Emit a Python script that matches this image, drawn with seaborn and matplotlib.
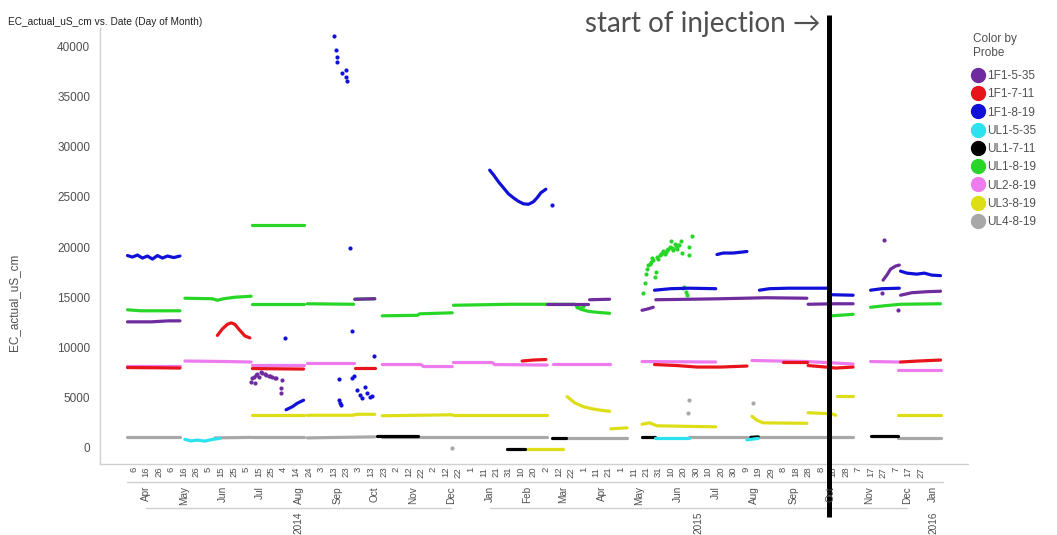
import matplotlib
matplotlib.use("Agg")
import matplotlib.pyplot as plt
import matplotlib.dates as mdates
import matplotlib.transforms as mtransforms
from matplotlib.lines import Line2D
import pandas as pd
import seaborn as sns

# ---------------------------------------------------------------- data
probes = ["1F1-5-35", "1F1-7-11", "1F1-8-19", "UL1-5-35", "UL1-7-11",
          "UL1-8-19", "UL2-8-19", "UL3-8-19", "UL4-8-19"]
probe_colors = ["#6E2C9E", "#E8141B", "#1010D8", "#2BE3EE", "#000000",
                "#28D628", "#EE7BEE", "#DEDE18", "#A8A8A8"]

# continuous logger runs, (date, EC in uS/cm)
f1_5_35_runs = [
    [("2014-04-01", 12550), ("2014-04-20", 12550), ("2014-05-04", 12650), ("2014-05-13", 12650)],
    [("2014-09-30", 14800), ("2014-10-16", 14850)],
    [("2015-03-03", 14300), ("2015-04-05", 14300)],
    [("2015-04-06", 14750), ("2015-04-22", 14800)],
    [("2015-05-18", 13700), ("2015-05-23", 13850), ("2015-05-27", 14000)],
    [("2015-05-29", 14750), ("2015-06-25", 14800), ("2015-07-20", 14850), ("2015-08-25", 14950), ("2015-09-27", 14900)],
    [("2015-09-28", 14300), ("2015-10-20", 14350), ("2015-11-03", 14350)],
    [("2015-11-27", 16700), ("2015-11-30", 17200), ("2015-12-03", 17800), ("2015-12-07", 18100), ("2015-12-10", 18200)],
    [("2015-12-11", 15200), ("2015-12-20", 15450), ("2016-01-01", 15550), ("2016-01-12", 15600)],
]
f1_5_35_spots = [
    ("2014-07-09", 6600), ("2014-07-10", 6930), ("2014-07-11", 7100), ("2014-07-12", 6440),
    ("2014-07-13", 7260), ("2014-07-14", 7400), ("2014-07-15", 7090), ("2014-07-17", 7590),
    ("2014-07-18", 7430), ("2014-07-20", 7350), ("2014-07-21", 7260), ("2014-07-23", 7200),
    ("2014-07-24", 7160), ("2014-07-26", 7090), ("2014-07-28", 7000), ("2014-07-29", 6930),
    ("2014-08-02", 5940), ("2014-08-02", 5440), ("2014-08-03", 6770),
    ("2015-11-26", 15400), ("2015-11-28", 20700), ("2015-12-09", 13700),
]

f1_7_11_runs = [
    [("2014-04-01", 8000), ("2014-04-25", 7980), ("2014-05-13", 7950)],
    [("2014-06-12", 11200), ("2014-06-16", 11850), ("2014-06-20", 12300), ("2014-06-23", 12450),
     ("2014-06-26", 12300), ("2014-06-30", 11700), ("2014-07-04", 11150), ("2014-07-08", 10950)],
    [("2014-07-10", 7900), ("2014-08-20", 7850)],
    [("2014-09-30", 8000), ("2014-10-16", 8000)],
    [("2015-02-11", 8650), ("2015-02-20", 8750), ("2015-03-02", 8800)],
    [("2015-05-28", 8300), ("2015-06-15", 8200), ("2015-07-01", 8050), ("2015-07-20", 8050), ("2015-08-10", 8150)],
    [("2015-09-08", 8550), ("2015-09-27", 8550)],
    [("2015-09-28", 8200), ("2015-10-12", 8050), ("2015-10-20", 7950), ("2015-11-03", 8050)],
    [("2015-12-11", 8550), ("2015-12-25", 8650), ("2016-01-12", 8750)],
]

f1_8_19_runs = [
    [("2014-04-01", 19150), ("2014-04-05", 19000), ("2014-04-09", 19200), ("2014-04-13", 18900),
     ("2014-04-17", 19100), ("2014-04-21", 18800), ("2014-04-25", 19150), ("2014-04-29", 18900),
     ("2014-05-03", 19100), ("2014-05-08", 18950), ("2014-05-13", 19100)],
    [("2014-08-06", 3800), ("2014-08-11", 4100), ("2014-08-15", 4450), ("2014-08-20", 4750)],
    [("2015-01-16", 27650), ("2015-01-19", 27200), ("2015-01-23", 26500), ("2015-01-27", 25900),
     ("2015-01-31", 25300), ("2015-02-04", 24900), ("2015-02-08", 24550), ("2015-02-12", 24300),
     ("2015-02-16", 24250), ("2015-02-20", 24500), ("2015-02-23", 24900), ("2015-02-26", 25400),
     ("2015-03-02", 25750)],
    [("2015-05-28", 15700), ("2015-06-10", 15850), ("2015-06-25", 15900), ("2015-07-16", 15850)],
    [("2015-07-17", 19250), ("2015-07-22", 19400), ("2015-07-30", 19400), ("2015-08-10", 19550)],
    [("2015-08-20", 15700), ("2015-08-28", 15850), ("2015-09-12", 15900), ("2015-10-13", 15900)],
    [("2015-10-17", 15250), ("2015-11-03", 15200)],
    [("2015-11-17", 15700), ("2015-11-26", 15850), ("2015-12-10", 15900)],
    [("2015-12-11", 17600), ("2015-12-16", 17400), ("2015-12-24", 17300), ("2015-12-30", 17400),
     ("2016-01-05", 17200), ("2016-01-12", 17150)],
]
f1_8_19_spots = [
    ("2014-08-05", 10950), ("2014-09-13", 41000), ("2014-09-15", 39600), ("2014-09-16", 38900),
    ("2014-09-16", 38400), ("2014-09-20", 37300), ("2014-09-23", 37600), ("2014-09-23", 36900),
    ("2014-09-24", 36500), ("2014-09-26", 19900), ("2014-09-28", 11600), ("2014-10-15", 9150),
    ("2014-09-17", 6850), ("2014-09-17", 4800), ("2014-09-18", 4500), ("2014-09-19", 4300),
    ("2014-09-28", 7000), ("2014-09-29", 7150), ("2014-10-02", 5750), ("2014-10-04", 5250),
    ("2014-10-06", 4950), ("2014-10-08", 6100), ("2014-10-10", 5450), ("2014-10-12", 5100),
    ("2014-10-14", 5150), ("2015-03-07", 24200),
]

ul1_5_35_runs = [
    [("2014-05-17", 850), ("2014-05-22", 700), ("2014-05-27", 780), ("2014-06-02", 680),
     ("2014-06-08", 850), ("2014-06-14", 950)],
    [("2015-05-28", 1000), ("2015-06-25", 1000)],
    [("2015-08-10", 800), ("2015-08-19", 950)],
]

ul1_7_11_runs = [
    [("2014-10-18", 1150), ("2014-11-20", 1150)],
    [("2015-01-30", -80), ("2015-02-13", -80)],
    [("2015-03-07", 950), ("2015-03-18", 950)],
    [("2015-05-18", 1100), ("2015-05-28", 1100)],
    [("2015-08-13", 1050), ("2015-08-19", 1100)],
    [("2015-11-17", 1150), ("2015-12-09", 1150)],
]

ul1_8_19_runs = [
    [("2014-04-01", 13750), ("2014-04-12", 13650), ("2014-05-13", 13650)],
    [("2014-05-17", 14900), ("2014-06-08", 14850), ("2014-06-12", 14700), ("2014-06-17", 14850),
     ("2014-06-26", 15000), ("2014-07-09", 15100)],
    [("2014-07-10", 22200), ("2014-08-20", 22200)],
    [("2014-07-10", 14300), ("2014-08-20", 14300)],
    [("2014-08-23", 14350), ("2014-09-29", 14300)],
    [("2014-09-30", 14800), ("2014-10-16", 14850)],
    [("2014-10-22", 13150), ("2014-11-19", 13200), ("2014-11-21", 13350), ("2014-12-17", 13450)],
    [("2014-12-18", 14200), ("2015-02-01", 14300), ("2015-03-25", 14300), ("2015-03-30", 13800),
     ("2015-04-05", 13600), ("2015-04-12", 13500), ("2015-04-22", 13400)],
    [("2015-10-17", 13150), ("2015-11-03", 13300)],
    [("2015-11-17", 14000), ("2015-11-28", 14150), ("2015-12-11", 14300), ("2016-01-12", 14350)],
]
ul1_8_19_spots = [
    ("2015-03-27", 14000), ("2015-03-29", 13900), ("2015-04-01", 14100),
    ("2015-05-19", 15400), ("2015-05-20", 16400), ("2015-05-21", 17300), ("2015-05-22", 17800),
    ("2015-05-23", 18200), ("2015-05-24", 18300), ("2015-05-25", 18550), ("2015-05-26", 18900),
    ("2015-05-27", 18700), ("2015-05-28", 17050), ("2015-05-29", 17550), ("2015-05-30", 19000),
    ("2015-05-31", 18800), ("2015-06-01", 19200), ("2015-06-02", 19300), ("2015-06-03", 19400),
    ("2015-06-04", 19600), ("2015-06-05", 19300), ("2015-06-06", 19550), ("2015-06-07", 19700),
    ("2015-06-08", 19800), ("2015-06-09", 20050), ("2015-06-10", 20550), ("2015-06-11", 19900),
    ("2015-06-12", 19700), ("2015-06-13", 20300), ("2015-06-14", 20050), ("2015-06-15", 19800),
    ("2015-06-16", 20200), ("2015-06-17", 20200), ("2015-06-18", 20600), ("2015-06-19", 19400),
    ("2015-06-20", 15900), ("2015-06-21", 16050), ("2015-06-22", 15500), ("2015-06-23", 15200),
    ("2015-06-25", 20050), ("2015-06-25", 19200), ("2015-06-27", 21100),
]

ul2_8_19_runs = [
    [("2014-04-01", 8150), ("2014-05-13", 8150)],
    [("2014-05-17", 8650), ("2014-06-20", 8600), ("2014-07-09", 8550)],
    [("2014-07-10", 8250), ("2014-08-20", 8250)],
    [("2014-08-23", 8450), ("2014-09-29", 8450)],
    [("2014-10-22", 8300), ("2014-11-22", 8300), ("2014-11-24", 8100), ("2014-12-17", 8100)],
    [("2014-12-18", 8500), ("2015-01-18", 8500), ("2015-01-20", 8300), ("2015-03-03", 8250)],
    [("2015-03-08", 8400), ("2015-04-22", 8400)],
    [("2015-05-18", 8600), ("2015-07-16", 8550)],
    [("2015-08-14", 8700), ("2015-09-27", 8600), ("2015-10-20", 8450), ("2015-11-03", 8350)],
    [("2015-11-17", 8600), ("2015-12-10", 8550)],
    [("2015-12-09", 7750), ("2016-01-12", 7750)],
]

ul3_8_19_runs = [
    [("2014-07-10", 3300), ("2014-08-20", 3300)],
    [("2014-08-23", 3250), ("2014-09-28", 3250), ("2014-10-02", 3350), ("2014-10-16", 3350)],
    [("2014-10-22", 3200), ("2014-12-17", 3300)],
    [("2014-12-18", 3300), ("2015-03-03", 3300)],
    [("2015-02-14", -100), ("2015-03-16", -100)],
    [("2015-03-19", 5100), ("2015-03-25", 4500), ("2015-04-01", 4100), ("2015-04-08", 3900),
     ("2015-04-15", 3750), ("2015-04-22", 3650)],
    [("2015-04-23", 1900), ("2015-05-06", 2000)],
    [("2015-05-18", 2350), ("2015-05-24", 2500), ("2015-05-30", 2200), ("2015-07-16", 2100)],
    [("2015-08-14", 3150), ("2015-08-18", 2750), ("2015-08-23", 2500), ("2015-09-27", 2450)],
    [("2015-09-28", 3500), ("2015-10-17", 3400), ("2015-10-20", 3250)],
    [("2015-10-21", 5200), ("2015-11-03", 5200)],
    [("2015-12-09", 3250), ("2016-01-12", 3250)],
]

ul4_8_19_runs = [
    [("2014-04-01", 1050), ("2014-05-13", 1050)],
    [("2014-06-10", 1000), ("2014-07-09", 1050)],
    [("2014-07-10", 1050), ("2014-08-20", 1050)],
    [("2014-08-23", 1000), ("2014-10-16", 1100)],
    [("2014-10-22", 1100), ("2014-12-17", 1100)],
    [("2014-12-18", 1050), ("2015-03-03", 1050)],
    [("2015-03-19", 1000), ("2015-05-06", 1000)],
    [("2015-06-25", 1050), ("2015-08-10", 1050)],
    [("2015-08-20", 1050), ("2015-11-03", 1050)],
    [("2015-12-09", 1000), ("2016-01-12", 1000)],
]
ul4_8_19_spots = [("2014-12-17", 0), ("2015-06-24", 3450), ("2015-06-25", 4750), ("2015-08-15", 4450)]

injection_date = "2015-10-15"

month_labels = ["Apr", "May", "Jun", "Jul", "Aug", "Sep", "Oct", "Nov", "Dec",
                "Jan", "Feb", "Mar", "Apr", "May", "Jun", "Jul", "Aug", "Sep", "Oct", "Nov", "Dec",
                "Jan"]
month_centers = ["2014-04-16", "2014-05-16", "2014-06-16", "2014-07-16", "2014-08-16",
                 "2014-09-16", "2014-10-16", "2014-11-16", "2014-12-16",
                 "2015-01-16", "2015-02-15", "2015-03-16", "2015-04-16", "2015-05-16",
                 "2015-06-16", "2015-07-16", "2015-08-16", "2015-09-16", "2015-10-16",
                 "2015-11-16", "2015-12-16", "2016-01-06"]
year_labels = ["2014", "2015", "2016"]
year_centers = ["2014-08-16", "2015-07-02", "2016-01-06"]

runs = {
    "1F1-5-35": f1_5_35_runs, "1F1-7-11": f1_7_11_runs, "1F1-8-19": f1_8_19_runs,
    "UL1-5-35": ul1_5_35_runs, "UL1-7-11": ul1_7_11_runs, "UL1-8-19": ul1_8_19_runs,
    "UL2-8-19": ul2_8_19_runs, "UL3-8-19": ul3_8_19_runs, "UL4-8-19": ul4_8_19_runs,
}
spots = {
    "1F1-5-35": f1_5_35_spots, "1F1-8-19": f1_8_19_spots,
    "UL1-8-19": ul1_8_19_spots, "UL4-8-19": ul4_8_19_spots,
}

# ---------------------------------------------------------------- frames
rows = []
for probe, segs in runs.items():
    for k, seg in enumerate(segs):
        for d, v in seg:
            rows.append({"probe": probe, "run": f"{probe}#{k}", "date": pd.Timestamp(d), "ec": v})
lines_df = pd.DataFrame(rows)

prow = []
for probe, pts in spots.items():
    for d, v in pts:
        prow.append({"probe": probe, "date": pd.Timestamp(d), "ec": v})
spots_df = pd.DataFrame(prow)

palette = dict(zip(probes, probe_colors))

# ---------------------------------------------------------------- figure
sns.set_style("white")
plt.rcParams["font.family"] = ["Liberation Sans", "DejaVu Sans"]

W, H = 1057, 535
fig = plt.figure(figsize=(W / 100, H / 100), dpi=100)
ax = fig.add_axes([100 / W, 1 - 464 / H, 868 / W, 436 / H])

# bottom-most probes first so the 1F1 traces sit on top
for probe in probes[::-1]:
    sub = lines_df[lines_df["probe"] == probe]
    sns.lineplot(data=sub, x="date", y="ec", units="run", estimator=None, sort=False,
                 color=palette[probe], linewidth=2.3, ax=ax, legend=False,
                 solid_capstyle="round")
for probe in probes[::-1]:
    sub = spots_df[spots_df["probe"] == probe]
    if len(sub):
        sns.scatterplot(data=sub, x="date", y="ec", color=palette[probe], s=9,
                        linewidth=0, ax=ax, legend=False)

ax.set_xlim(pd.Timestamp("2014-03-10"), pd.Timestamp("2016-02-03"))
ax.set_ylim(-1600, 41800)
ax.set_xlabel("")
ax.set_ylabel("")

for side in ("top", "right"):
    ax.spines[side].set_visible(False)
for side in ("left", "bottom"):
    ax.spines[side].set_color("#D0D0D0")
    ax.spines[side].set_linewidth(1.0)

ax.set_yticks(range(0, 40001, 5000))
ax.set_yticklabels([str(v) for v in range(0, 40001, 5000)])
ax.tick_params(axis="y", length=3, width=0.8, color="#D0D0D0", pad=4,
               labelsize=8.5, labelcolor="#505050")

tick_days = pd.date_range("2014-04-06", "2015-12-27", freq="10D")
ax.set_xticks(tick_days)
ax.set_xticklabels([str(d.day) for d in tick_days], rotation=90)
ax.tick_params(axis="x", length=0, pad=2, labelsize=6.8, labelcolor="#505050")

# hierarchical month / year axis below the day ticks
blend = mtransforms.blended_transform_factory(ax.transData, fig.transFigure)
fy = lambda py: 1 - py / H
dnum = lambda s: mdates.date2num(pd.Timestamp(s))

for lab, c in zip(month_labels, month_centers):
    fig.text(dnum(c), fy(486), lab, transform=blend, rotation=90, ha="center", va="top",
             fontsize=7.2, color="#505050")
for lab, c in zip(year_labels, year_centers):
    fig.text(dnum(c), fy(511), lab, transform=blend, rotation=90, ha="center", va="top",
             fontsize=7.2, color="#505050")

sep_kw = dict(transform=blend, color="#D0D0D0", linewidth=1.0, clip_on=False)
fig.add_artist(Line2D([dnum("2014-04-01"), dnum("2016-01-14")], [fy(482), fy(482)], **sep_kw))
fig.add_artist(Line2D([dnum("2014-04-16"), dnum("2014-12-16")], [fy(508), fy(508)], **sep_kw))
fig.add_artist(Line2D([dnum("2015-01-16"), dnum("2015-12-16")], [fy(508), fy(508)], **sep_kw))

# injection marker
fig.add_artist(Line2D([dnum(injection_date)] * 2, [fy(15), fy(517)], transform=blend,
                      color="black", linewidth=3.6, solid_capstyle="butt", clip_on=False))
fig.text(585 / W, fy(24), "start of injection \u2192", fontsize=20, color="#505050",
         ha="left", va="center", family=["Lato", "DejaVu Sans"])

# titles
fig.text(8 / W, fy(22), "EC_actual_uS_cm vs. Date (Day of Month)", fontsize=7.3,
         color="#222222", ha="left", va="center")
fig.text(14 / W, fy(302), "EC_actual_uS_cm", rotation=90, fontsize=8.5, color="#505050",
         ha="center", va="center")

# legend
fig.text(973 / W, fy(33), "Color by\nProbe", fontsize=8.5, color="#505050",
         ha="left", va="top", linespacing=1.25)
handles = [Line2D([0], [0], linestyle="none", marker="o", markersize=10,
                  markerfacecolor=c, markeredgecolor=c) for c in probe_colors]
leg = fig.legend(handles, probes, loc="upper left",
                 bbox_to_anchor=(971 / W, fy(70)), frameon=False, fontsize=8.5,
                 handletextpad=0.15, handlelength=1.2,
                 labelspacing=0.53, borderaxespad=0, borderpad=0)
for t in leg.get_texts():
    t.set_color("#505050")

fig.savefig("out.png", dpi=100)
